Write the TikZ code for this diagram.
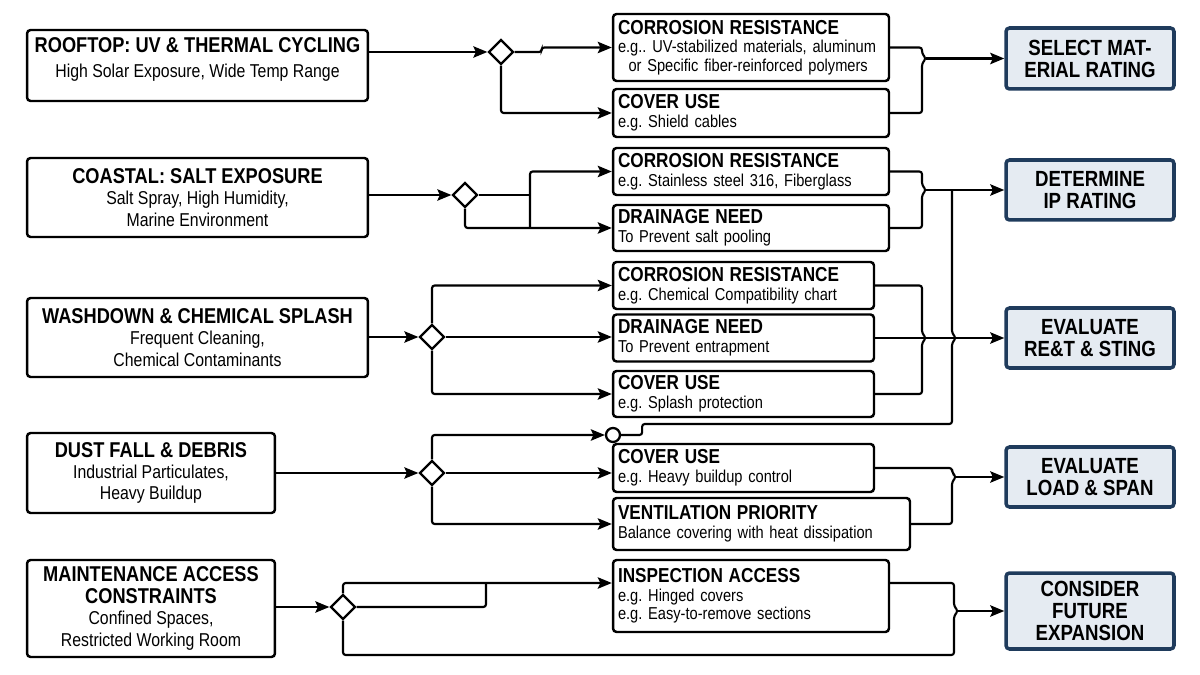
\documentclass[tikz,border=0pt]{standalone}
\usepackage{fontspec}
\setmainfont[FakeStretch=0.85]{Liberation Sans}
\usepackage{tikz}
\usetikzlibrary{shapes.geometric, arrows.meta, calc}

\newcommand{\headtxt}{\bfseries\fontsize{12.2}{14}\selectfont}
\newcommand{\subtxt}{\fontsize{10.6}{12.2}\selectfont}
\newcommand{\opthead}{\bfseries\fontsize{11.5}{12.5}\selectfont}
\newcommand{\optsub}{\fontsize{9.8}{10.6}\selectfont}
\newcommand{\reshead}{\bfseries\fontsize{12.5}{12.5}\selectfont}
\frenchspacing

\begin{document}
\begin{tikzpicture}[x=0.02cm, y=-0.02cm,
    srcbox/.style={draw, line width=1.4pt, rounded corners=2pt, align=center, inner sep=2pt, font=\subtxt},
    optbox/.style={draw, line width=1.4pt, rounded corners=2pt, align=left, inner xsep=0.1cm, inner ysep=1pt, font=\optsub},
    resbox/.style={draw=resline, fill=resfill, line width=2pt, rounded corners=2pt, align=center, minimum width=3.36cm, font=\reshead},
    gate/.style={diamond, draw, fill=white, line width=1.3pt, inner sep=0pt, minimum width=0.5cm, minimum height=0.5cm},
    conn/.style={line width=1.2pt, rounded corners=1.5pt},
    arr/.style={conn, -{Stealth[length=8pt, width=6.5pt, inset=1.5pt]}}]
        \definecolor{resline}{HTML}{1F3B5C}
        \definecolor{resfill}{HTML}{E5EBF2}
        \useasboundingbox (0,0) rectangle (1200,675);

        % sources
        \node[srcbox, minimum width=6.82cm, minimum height=1.42cm] (roof) at (197.5,65.5)
            {{\headtxt ROOFTOP: UV \& THERMAL CYCLING}\\[2pt] High Solar Exposure, Wide Temp Range\rule[-9pt]{0pt}{0pt}};
        \node[srcbox, minimum width=6.82cm, minimum height=1.58cm] (coast) at (197.5,197.5)
            {{\headtxt COASTAL: SALT EXPOSURE}\\ Salt Spray, High Humidity,\\ Marine Environment};
        \node[srcbox, minimum width=6.82cm, minimum height=1.58cm] (wash) at (197.5,337.5)
            {{\headtxt WASHDOWN \& CHEMICAL SPLASH}\\ Frequent Cleaning,\\ Chemical Contaminants};
        \node[srcbox, minimum width=4.96cm, minimum height=1.6cm] (dust) at (151,473)
            {{\headtxt DUST FALL \& DEBRIS}\\ Industrial Particulates,\\ Heavy Buildup};
        \node[srcbox, minimum width=4.96cm, minimum height=1.94cm] (maint) at (151,608.5)
            {{\headtxt MAINTENANCE ACCESS}\\ {\headtxt CONSTRAINTS}\\ Confined Spaces,\\ Restricted Working Room};

        % gates
        \node[gate] (droof) at (501,52) {};
        \node[gate] (dcoast) at (465,195) {};
        \node[gate] (dwash) at (432,337) {};
        \node[gate] (ddust) at (432,473) {};
        \node[gate] (dmaint) at (343,607) {};
        \node[circle, draw, fill=white, line width=1.3pt, inner sep=0pt, minimum size=0.28cm] (jdust) at (613,435) {};

        % options
        \node[optbox, text width=5.32cm, minimum height=1.34cm] (roofcor) at (751,47.5)
            {{\opthead CORROSION RESISTANCE}\\ e.g.. UV-stabilized materials, aluminum\\ \hspace*{6pt}or Specific fiber-reinforced polymers};
        \node[optbox, text width=5.32cm, minimum height=0.96cm] (roofcov) at (751,113)
            {{\opthead COVER USE}\\ e.g. Shield cables};
        \node[optbox, text width=5.32cm, minimum height=0.94cm] (coastcor) at (751,171.5)
            {{\opthead CORROSION RESISTANCE}\\ e.g. Stainless steel 316, Fiberglass};
        \node[optbox, text width=5.32cm, minimum height=0.92cm] (coastdrn) at (751,228)
            {{\opthead DRAINAGE NEED}\\ To Prevent salt pooling};
        \node[optbox, text width=5.02cm, minimum height=0.94cm] (washcor) at (743.5,285.5)
            {{\opthead CORROSION RESISTANCE}\\ e.g. Chemical Compatibility chart};
        \node[optbox, text width=5.02cm, minimum height=0.94cm] (washdrn) at (743.5,338)
            {{\opthead DRAINAGE NEED}\\ To Prevent entrapment};
        \node[optbox, text width=5.02cm, minimum height=0.92cm] (washcov) at (743.5,394)
            {{\opthead COVER USE}\\ e.g. Splash protection};
        \node[optbox, text width=5.02cm, minimum height=0.96cm] (dustcov) at (743.5,468)
            {{\opthead COVER USE}\\ e.g. Heavy buildup control};
        \node[optbox, text width=5.74cm, minimum height=1.04cm] (dustvent) at (761.5,524)
            {{\opthead VENTILATION PRIORITY}\\ Balance covering with heat dissipation};
        \node[optbox, text width=5.32cm, minimum height=1.44cm] (maintinsp) at (751,596)
            {{\opthead INSPECTION ACCESS}\\ e.g. Hinged covers\\ e.g. Easy-to-remove sections};

        % results
        \node[resbox, minimum height=1.22cm] (sel) at (1090,58.5) {SELECT MAT-\\ERIAL RATING};
        \node[resbox, minimum height=1.2cm] (ipr) at (1090,190) {DETERMINE\\IP RATING};
        \node[resbox, minimum height=1.2cm] (rest) at (1090,338) {EVALUATE\\RE\&T \& STING};
        \node[resbox, minimum height=1.2cm] (load) at (1090,477) {EVALUATE\\LOAD \& SPAN};
        \node[resbox, minimum height=1.52cm] (expn) at (1090,611) {CONSIDER\\FUTURE\\EXPANSION};

        \coordinate (xa) at (922,0);
        \coordinate (xb) at (952,0);
        \coordinate (xc) at (954,0);
        \coordinate (xk) at (530,0);
        \coordinate (xm) at (486,0);
        \coordinate (b1) at (xa |- sel.west);
        \coordinate (b2) at (xa |- ipr.west);
        \coordinate (b3) at (xa |- rest.west);
        \coordinate (h3) at (xb |- rest.west);
        \coordinate (b4) at (xb |- load.west);
        \coordinate (b5) at (xc |- expn.west);
        \coordinate (v1) at (952,424);
        \coordinate (mb) at (954,655);
        \coordinate (mt) at ([yshift=0.26cm]maintinsp.west);
        \coordinate (me) at ([yshift=0.26cm]maintinsp.east);

        % rooftop
        \draw[arr] (roof.east |- droof) -- (droof.west);
        \draw[arr] (droof.east) -- ++(27,0) |- (roofcor.west);
        \draw[arr] (droof.south) |- (roofcov.west);
        \draw[conn] (roofcor.east) -| ($(b1)+(0,-5)$) -- ($(b1)+(4,0)$) -- ($(b1)+(0,5)$) |- (roofcov.east);
        \draw[arr] ($(b1)+(4,0)$) -- (sel.west);

        % coastal
        \draw[arr] (coast.east |- dcoast) -- (dcoast.west);
        \draw[conn] (dcoast.east) -- (xk |- dcoast.east);
        \draw[arr] (xk |- coastdrn.west) |- (coastcor.west);
        \draw[arr] (dcoast.south) |- (coastdrn.west);
        \draw[conn] (coastcor.east) -| ($(b2)+(0,-5)$) -- ($(b2)+(4,0)$) -- ($(b2)+(0,5)$) |- (coastdrn.east);
        \draw[arr] ($(b2)+(4,0)$) -- (ipr.west);

        % washdown
        \draw[arr] (wash.east |- dwash) -- (dwash.west);
        \draw[arr] (dwash.north) |- (washcor.west);
        \draw[arr] (dwash.east) -- (dwash.east -| washdrn.west);
        \draw[arr] (dwash.south) |- (washcov.west);
        \draw[conn] (washcor.east) -| ($(b3)+(0,-5)$) -- ($(b3)+(4,0)$) -- ($(b3)+(0,5)$) |- (washcov.east);
        \draw[arr] (washdrn.east) -- (rest.west);

        % dust
        \draw[arr] (dust.east |- ddust) -- (ddust.west);
        \draw[arr] (ddust.north) |- (jdust.west);
        \draw[arr] (ddust.east) -- (ddust.east -| dustcov.west);
        \draw[arr] (ddust.south) |- (dustvent.west);
        \draw[conn] (jdust.east) -- ++(21,0) |- (v1) -- ($(h3)+(0,5)$) -- ($(h3)+(4,0)$) -- ($(h3)+(0,-5)$) -- (xb |- ipr.west);
        \draw[conn] (dustcov.east) -| ($(b4)+(0,-5)$) -- ($(b4)+(4,0)$) -- ($(b4)+(0,5)$) |- (dustvent.east);
        \draw[arr] ($(b4)+(4,0)$) -- (load.west);

        % maintenance
        \draw[arr] (maint.east |- dmaint) -- (dmaint.west);
        \draw[arr] (dmaint.north) |- (mt);
        \draw[conn] (dmaint.east) -| (xm |- mt);
        \draw[conn] (dmaint.south) |- (mb) -- ($(b5)+(0,5)$) -- ($(b5)+(4,0)$) -- ($(b5)+(0,-5)$) |- (me);
        \draw[arr] ($(b5)+(4,0)$) -- (expn.west);
    \end{tikzpicture}
\end{document}
